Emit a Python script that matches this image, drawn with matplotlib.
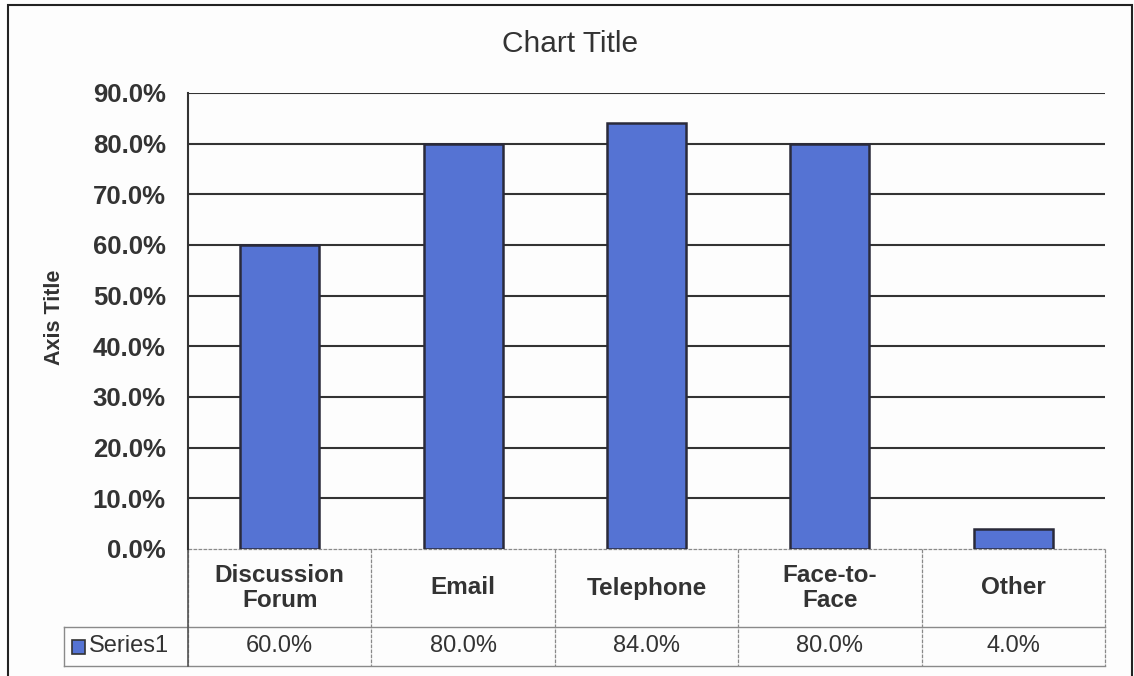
import matplotlib
matplotlib.use("Agg")
import matplotlib.pyplot as plt
from matplotlib.patches import Rectangle
import matplotlib.transforms as mtransforms

categories = ["Discussion\nForum", "Email", "Telephone", "Face-to-\nFace", "Other"]
values = [60.0, 80.0, 84.0, 80.0, 4.0]
series_name = "Series1"
yticks = [0, 10, 20, 30, 40, 50, 60, 70, 80, 90]

plt.rcParams['font.family'] = ['Liberation Sans', 'DejaVu Sans']
W, H = 1134, 676
fig = plt.figure(figsize=(W / 100, H / 100), dpi=100)
fig.patch.set_facecolor('#fdfdfd')

# outer frame
fig.patches.append(Rectangle((8 / W, -0.01), (1132 - 8) / W, 1 - 5 / H + 0.01,
                             transform=fig.transFigure, fill=False,
                             edgecolor='#222222', linewidth=1.5))

left, right, top, bottom = 188, 1105, 93, 549
ax = fig.add_axes([left / W, 1 - bottom / H, (right - left) / W, (bottom - top) / H])
ax.set_facecolor('none')

bar_color = '#5573d3'
x = list(range(len(values)))
ax.bar(x, values, width=0.43, color=bar_color, edgecolor='#2a2a3a', linewidth=1.8, zorder=3)

ax.set_xlim(-0.5, len(values) - 0.5)
ax.set_ylim(0, 90)
ax.set_yticks(yticks)
ax.set_yticklabels([f"{v:.1f}%" for v in yticks], fontsize=18.5, color='#333333', fontweight='bold')
ax.tick_params(axis='y', length=0, pad=16)
ax.set_xticks([])
for v in yticks[1:]:
    ax.axhline(v, color='#333333', linewidth=1.5, zorder=1)
for s in ['top', 'right', 'bottom']:
    ax.spines[s].set_visible(False)
ax.spines['left'].set_color('#333333')
ax.spines['left'].set_linewidth(1.5)

fig.text(55 / W, 1 - 317 / H, "Axis Title", fontsize=15.5, fontweight='bold', color='#333333',
         rotation=90, ha='center', va='center')
fig.text(570 / W, 1 - 44 / H, "Chart Title", fontsize=21.5, color='#333333', ha='center', va='center')

# data table
trans = mtransforms.blended_transform_factory(ax.transData, ax.transAxes)
ph = bottom - top
colw = (right - left) / len(values)
row1 = -(627 - bottom) / ph
row2 = -(666 - bottom) / ph
tcol = '#8a8a8a'
n = len(values)
lx = -0.5 - (left - 64) / colw
ax.plot([-0.5, n - 0.5], [0, 0], transform=trans, color=tcol, lw=0.9, clip_on=False, ls=(0, (3, 1)))
ax.plot([lx, n - 0.5], [row1, row1], transform=trans, color=tcol, lw=1.0, clip_on=False)
ax.plot([lx, n - 0.5], [row2, row2], transform=trans, color=tcol, lw=1.0, clip_on=False)
for i in range(n + 1):
    ax.plot([i - 0.5, i - 0.5], [0, row2], transform=trans, color=tcol, lw=0.9, clip_on=False,
            ls=(0, (3, 1)))
ax.plot([lx, lx], [row1, row2], transform=trans, color=tcol, lw=1.0, clip_on=False)
ax.plot([-0.5, -0.5], [0, row2], transform=trans, color='#555555', lw=1.2, clip_on=False)

for i, (c, v) in enumerate(zip(categories, values)):
    ax.text(i, row1 / 2, c, transform=trans, ha='center', va='center', fontsize=17.5,
            fontweight='bold', color='#333333', linespacing=1.1)
    ax.text(i, (row1 + row2) / 2, f"{v:.1f}%", transform=trans, ha='center', va='center',
            fontsize=17, color='#333333')

# legend key + series name
kx = -0.5 - (left - 72) / colw
ky = (row1 + row2) / 2
ax.add_patch(Rectangle((kx, ky - 7 / ph), 13 / colw, 14 / ph, transform=trans, clip_on=False,
                       facecolor=bar_color, edgecolor='#333333', lw=1.2))
ax.text(-0.5 - (left - 89) / colw, ky, series_name, transform=trans, ha='left', va='center',
        fontsize=17, color='#333333')

fig.savefig("out.png", dpi=100, facecolor=fig.get_facecolor())
